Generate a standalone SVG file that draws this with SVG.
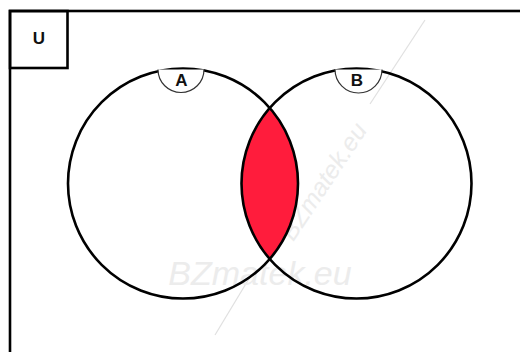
<svg xmlns="http://www.w3.org/2000/svg" width="520" height="352" viewBox="0 0 520 352">
<style>
.frame{fill:none;stroke:#000;stroke-width:2.6}
.set{fill:none;stroke:#000;stroke-width:2.6}
.tag{fill:#fff;stroke:#333;stroke-width:1.2}
.lbl{font-family:"Liberation Sans",Arial,sans-serif;font-size:17px;font-weight:bold;fill:#111;text-anchor:middle}
.wm{font-family:"Liberation Sans",Arial,sans-serif;font-style:italic;fill:#ececec}
.wml{stroke:#e0e0e0;stroke-width:1.2;fill:none}
</style>
<rect width="520" height="352" fill="#fff"/>
<g id="watermark">
<line class="wml" x1="425" y1="20" x2="370" y2="104"/>
<line class="wml" x1="250" y1="277" x2="215" y2="335"/>
<text class="wm" x="260" y="285" font-size="34" text-anchor="middle">BZmatek.eu</text>
<text class="wm" x="0" y="0" font-size="25" text-anchor="end" transform="translate(368,130) rotate(-56.3)">BZmatek.eu</text>
</g>
<g id="universe">
<rect class="frame" x="10" y="11" width="530" height="360"/>
<rect class="frame" x="10" y="11" width="57.5" height="57"/>
<text class="lbl" x="39" y="44">U</text>
</g>
<g id="intersection">
<path d="M269.75 108 A115 115 0 0 1 269.75 259 A115 115 0 0 1 269.75 108 Z" fill="#ff1c3c"/>
</g>
<g id="setA">
<circle class="set" cx="183" cy="183.5" r="115"/>
<path class="tag" d="M158 69.5 A23 23 0 0 0 204 69.5"/>
<text class="lbl" x="181.5" y="86">A</text>
</g>
<g id="setB">
<circle class="set" cx="356.5" cy="183.5" r="115"/>
<path class="tag" d="M335 69.5 A23.5 23.5 0 0 0 382 69.5"/>
<text class="lbl" x="357" y="86">B</text>
</g>
</svg>
